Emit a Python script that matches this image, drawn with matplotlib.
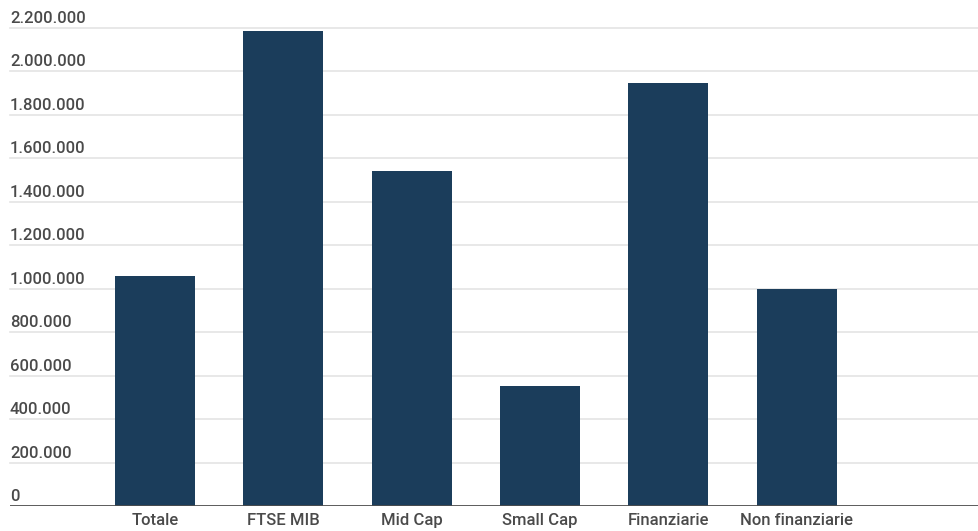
import numpy as np
import matplotlib.pyplot as plt
from matplotlib.transforms import offset_copy

categorie = ["Totale", "FTSE MIB", "Mid Cap", "Small Cap", "Finanziarie", "Non finanziarie"]
valori = [1060000, 2188000, 1540000, 552000, 1947000, 997000]
tick_y = [0, 200000, 400000, 600000, 800000, 1000000, 1200000,
          1400000, 1600000, 1800000, 2000000, 2200000]

plt.rcParams["font.family"] = ["Roboto", "DejaVu Sans"]

W, H = 979, 531
fig = plt.figure(figsize=(W / 100, H / 100), dpi=100)
ax = fig.add_axes([10 / W, 1 - 506 / H, 1 - 10 / W, (506 - 28) / H])

x = np.arange(len(categorie))
ax.bar(x, valori, width=0.623, color="#1b3d5b", zorder=2)

ax.set_ylim(0, 2200000)
ax.set_xlim(-1.13, 6.42)

# griglia orizzontale
for v in tick_y[1:]:
    ax.axhline(v, color="#e4e4e4", lw=1.2, zorder=1, clip_on=False)
ax.axhline(0, color="#4d4d4d", lw=2, zorder=3)

# etichette asse y sopra le linee
tr = offset_copy(ax.get_yaxis_transform(), fig=fig, x=0, y=5, units="dots")
for v in tick_y:
    lab = f"{v:,}".replace(",", ".")
    ax.text(0, v, lab, transform=tr, ha="left", va="baseline",
            fontsize=12, color="#4a4a4a", fontweight="medium")

ax.set_xticks(x)
ax.set_xticklabels(categorie, fontsize=12, color="#4a4a4a", fontweight="medium")
ax.tick_params(axis="x", length=0, pad=5)
ax.set_yticks([])
for s in ax.spines.values():
    s.set_visible(False)

fig.savefig("out.png", dpi=100)
